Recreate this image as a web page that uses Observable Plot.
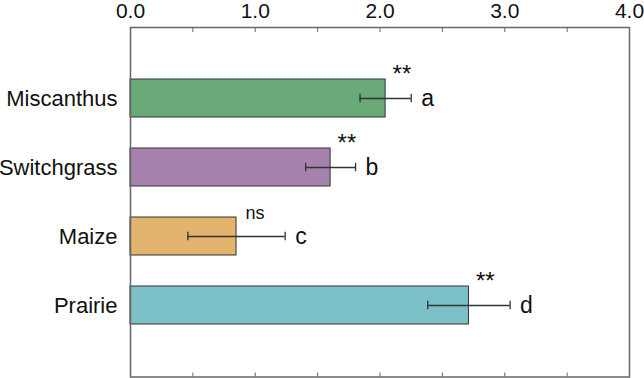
<!DOCTYPE html>
<html>
<head>
<meta charset="utf-8">
<script src="https://cdn.jsdelivr.net/npm/d3@7"></script>
<script src="https://cdn.jsdelivr.net/npm/@observablehq/plot@0.6"></script>
<style>
  html, body { margin: 0; padding: 0; background: #fff; }
  #chart svg { display: block; }
  #chart svg g[aria-label="x-axis tick label"] { font-size: 21px; }
  #chart svg g[aria-label="y-axis tick label"] { font-size: 22px; }
</style>
</head>
<body>
<div id="chart"></div>
<script>
const crops = ["Miscanthus", "Switchgrass", "Maize", "Prairie"];
const means = [2.045, 1.604, 0.85, 2.713];
const errors = [0.205, 0.2, 0.39, 0.33];
const letters = ["a", "b", "c", "d"];
const signif = ["**", "**", "ns", "**"];
const colors = ["#6aaa79", "#a682ae", "#e3b46d", "#7cc1c8"];
const tickValues = [0, 0.5, 1, 1.5, 2, 2.5, 3, 3.5, 4];
const tickLabels = {0: "0.0", 1: "1.0", 2: "2.0", 3: "3.0", 4: "4.0"};

const data = crops.map((c, i) => ({
  crop: c, mean: means[i], lo: means[i] - errors[i], hi: means[i] + errors[i],
  letter: letters[i], sig: signif[i]
}));

const chart = Plot.plot({
  width: 644,
  height: 378,
  marginLeft: 130,
  marginRight: 15,
  marginTop: 27,
  marginBottom: 1.5,
  style: {fontFamily: "'Liberation Sans', Arial, sans-serif", color: "#111", background: "#fff"},
  x: {domain: [0, 4]},
  y: {domain: crops, paddingInner: 0.45, paddingOuter: 0.725, label: null},
  color: {domain: crops, range: colors},
  marks: [
    Plot.barX(data, {y: "crop", x: "mean", fill: "crop", stroke: "#333", strokeWidth: 1}),
    Plot.ruleY(data, {y: "crop", x1: "lo", x2: "hi", stroke: "#333", strokeWidth: 1.3}),
    Plot.tickX(data, {y: "crop", x: "lo", stroke: "#333", strokeWidth: 1.3, insetTop: 14.75, insetBottom: 14.75}),
    Plot.tickX(data, {y: "crop", x: "hi", stroke: "#333", strokeWidth: 1.3, insetTop: 14.75, insetBottom: 14.75}),
    Plot.text(data, {y: "crop", x: "hi", text: "letter", dx: 10, textAnchor: "start", fontSize: 23, fill: "#111"}),
    Plot.text(data, {filter: d => d.sig === "**", y: "crop", x: "mean", text: "sig", dx: 7, dy: -23.7, textAnchor: "start", fontSize: 24, fill: "#111"}),
    Plot.text(data, {filter: d => d.sig !== "**", y: "crop", x: "mean", text: "sig", dx: 9, dy: -22.8, textAnchor: "start", fontSize: 18, fill: "#111"}),
    Plot.frame({stroke: "#666", strokeWidth: 1.5}),
    Plot.axisX({anchor: "top", ticks: tickValues, tickSize: -4, tickPadding: 14, stroke: "#666",
      tickFormat: d => tickLabels[d] ?? "", fontSize: 21, color: "#111", label: null}),
    Plot.axisX({anchor: "bottom", ticks: tickValues, tickSize: -4, stroke: "#666", tickFormat: () => "", label: null}),
    Plot.axisY({anchor: "left", tickSize: 0, tickPadding: 13, fontSize: 22, color: "#111", label: null})
  ]
});
document.getElementById("chart").appendChild(chart);
</script>
</body>
</html>
